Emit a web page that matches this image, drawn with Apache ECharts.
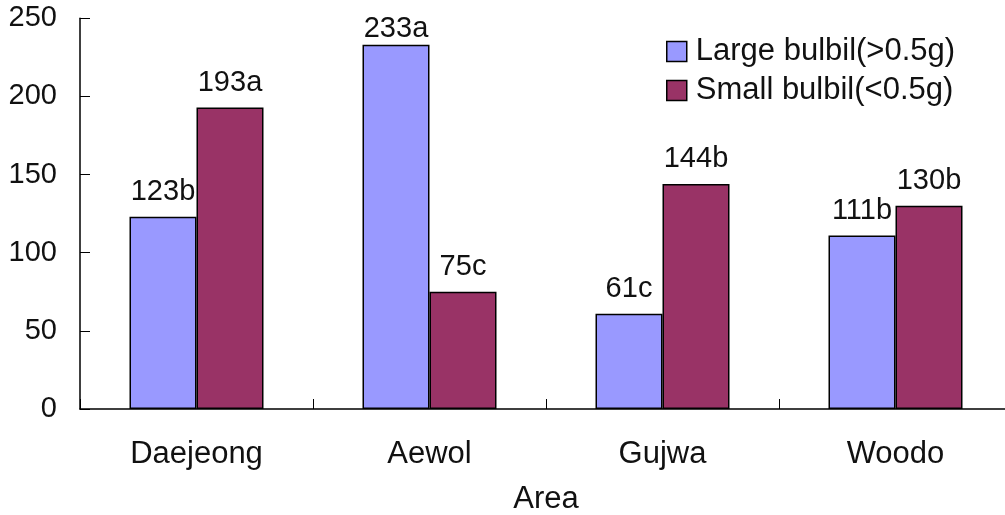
<!DOCTYPE html>
<html><head><meta charset="utf-8">
<script src="https://cdn.jsdelivr.net/npm/echarts@6/dist/echarts.min.js"></script>
<style>html,body{margin:0;padding:0;background:#fff}#c{width:1005px;height:515px}</style>
</head><body><div id="c"></div>
<script>
var categories = ['Daejeong', 'Aewol', 'Gujwa', 'Woodo'];
var largeValues = [123, 233, 61, 111];
var smallValues = [193, 75, 144, 130];
var largeLetters = ['b', 'a', 'c', 'b'];
var smallLetters = ['a', 'c', 'b', 'b'];
var seriesNames = ['Large bulbil(>0.5g)', 'Small bulbil(<0.5g)'];
var yTicks = [0, 50, 100, 150, 200, 250];
var xName = 'Area';

var FONT = 'Liberation Sans';
var TXT = '#111';
var YMAX = 250;
var chart = echarts.init(document.getElementById('c'), null, {renderer: 'canvas'});
function build(values, letters) {
  return values.map(function (v, i) {
    var item = {value: v};
    // labels near the plot top are squeezed against the bar
    if (v > YMAX * 0.9) item.label = {distance: 1};
    return item;
  });
}
function lbl(letters) {
  return {show: true, position: 'top', distance: 10, fontFamily: FONT, fontSize: 29, color: TXT,
    formatter: function (p) { return p.value + letters[p.dataIndex]; }};
}
chart.setOption({
  animation: false,
  textStyle: {fontFamily: FONT},
  grid: {left: 80, right: -7, top: 18.3, bottom: 106, containLabel: false, outerBoundsMode: 'none'},
  legend: {
    orient: 'vertical', left: 666, top: 36, padding: 0, itemWidth: 20, itemHeight: 20, itemGap: 8,
    icon: 'rect',
    textStyle: {fontFamily: FONT, fontSize: 31, color: TXT, padding: [0, 0, 0, 4]},
    itemStyle: {borderColor: '#000', borderWidth: 1.5},
    data: seriesNames
  },
  xAxis: {
    type: 'category', data: categories,
    name: xName, nameLocation: 'middle', nameGap: 75,
    nameTextStyle: {fontFamily: FONT, fontSize: 31, color: TXT},
    axisLine: {lineStyle: {color: '#000', width: 1.5}},
    axisTick: {show: true, inside: true, length: 10, lineStyle: {color: '#000', width: 1}},
    axisLabel: {fontFamily: FONT, fontSize: 31, color: TXT, margin: 30}
  },
  yAxis: {
    type: 'value', min: 0, max: YMAX, interval: 50,
    axisLine: {show: true, lineStyle: {color: '#000', width: 1.5}},
    axisTick: {show: true, inside: true, length: 10, lineStyle: {color: '#000', width: 1}},
    splitLine: {show: false},
    axisLabel: {fontFamily: FONT, fontSize: 29, color: TXT, margin: 23,
      formatter: function (v) { return yTicks.indexOf(v) >= 0 ? String(v) : ''; }}
  },
  series: [
    {name: seriesNames[0], type: 'bar', data: build(largeValues), barWidth: 67, barGap: '0%',
     itemStyle: {color: '#9999FF', borderColor: '#000', borderWidth: 1.5}, label: lbl(largeLetters)},
    {name: seriesNames[1], type: 'bar', data: build(smallValues), barWidth: 67, barGap: '0%',
     itemStyle: {color: '#993366', borderColor: '#000', borderWidth: 1.5}, label: lbl(smallLetters)}
  ]
});
</script></body></html>
